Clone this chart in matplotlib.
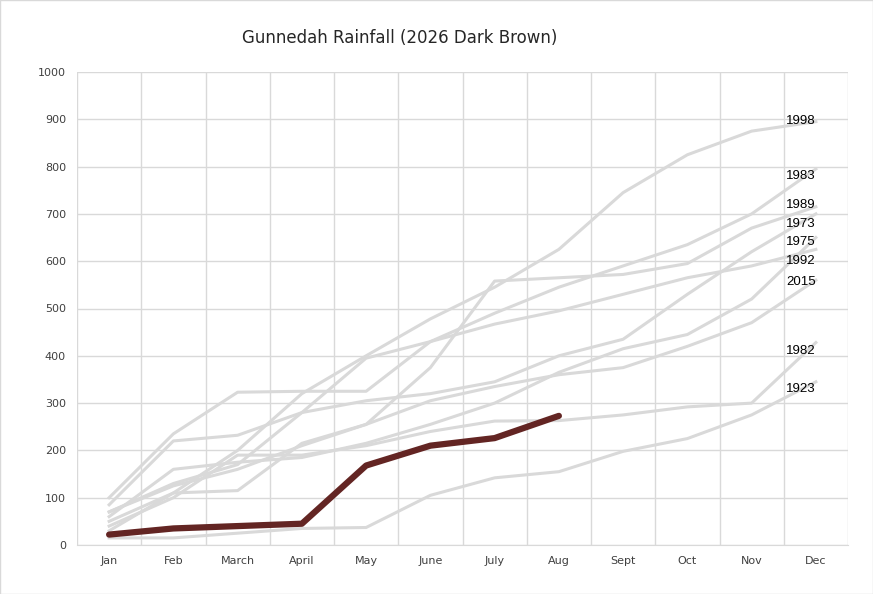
import numpy as np
import matplotlib.pyplot as plt

months = ['Jan', 'Feb', 'March', 'April', 'May', 'June', 'July', 'Aug', 'Sept', 'Oct', 'Nov', 'Dec']

# cumulative rainfall (mm)
years = {
    '1998': [50, 110, 200, 320, 400, 478, 545, 625, 745, 825, 875, 895],
    '1983': [70, 130, 170, 280, 395, 430, 490, 545, 590, 635, 700, 795],
    '1989': [30, 110, 115, 215, 255, 375, 558, 565, 572, 595, 670, 715],
    '1973': [85, 220, 232, 280, 305, 320, 345, 400, 435, 530, 620, 700],
    '1975': [60, 160, 175, 185, 215, 255, 300, 365, 415, 445, 520, 650],
    '1992': [100, 235, 323, 325, 325, 430, 467, 495, 530, 565, 590, 625],
    '2015': [70, 125, 160, 210, 255, 305, 335, 360, 375, 420, 470, 560],
    '1982': [40, 100, 190, 190, 210, 240, 262, 263, 275, 292, 300, 428],
    '1923': [15, 15, 25, 35, 37, 105, 142, 155, 198, 225, 275, 345],
}
label_y = {'1998': 897, '1983': 780, '1989': 718, '1973': 678, '1975': 640,
           '1992': 600, '2015': 555, '1982': 410, '1923': 330}
y2026 = [22, 35, 40, 45, 168, 210, 226, 273]

fig = plt.figure(figsize=(8.73, 5.94), dpi=100)
ax = fig.add_axes([77/873, 49/594, 771/873, 473/594])
x = np.arange(12)

for yr, vals in years.items():
    ax.plot(x, vals, color='#d9d9d9', lw=2.2, zorder=2)
    ax.text(11.0, label_y[yr], yr, ha='right', va='center', fontsize=9.5,
            family='Liberation Sans', zorder=4)
ax.plot(np.arange(len(y2026)), y2026, color='#632523', lw=4.5,
        solid_capstyle='round', zorder=3)

ax.set_xlim(-0.5, 11.5)
ax.set_ylim(0, 1000)
ax.set_yticks(range(0, 1001, 100))
ax.set_xticks(x)
ax.set_xticklabels(months)
ax.set_xticks(np.arange(-0.5, 12, 1), minor=True)
ax.grid(True, which='minor', axis='x', color='#d9d9d9', lw=1)
ax.grid(True, which='major', axis='y', color='#d9d9d9', lw=1)
ax.tick_params(which='both', length=0, labelsize=8, colors='#404040', pad=8)
for s in ax.spines.values():
    s.set_visible(False)
ax.spines['bottom'].set_visible(True)
ax.spines['bottom'].set_color('#d9d9d9')
ax.set_axisbelow(True)

fig.text(400/873, 1 - 38/594, 'Gunnedah Rainfall (2026 Dark Brown)', ha='center', va='center',
         fontsize=12, color='#262626')
fig.patches.append(plt.Rectangle((0, 0), 1, 1, transform=fig.transFigure, fill=False,
                                 edgecolor='#d9d9d9', lw=1))

fig.savefig('out.png', dpi=100)
